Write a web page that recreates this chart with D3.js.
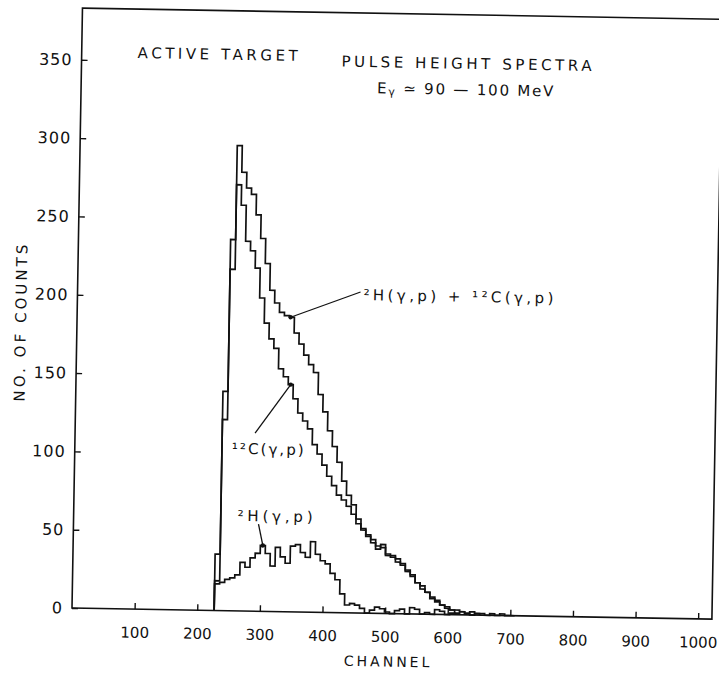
<!DOCTYPE html>
<html lang="en">
<head>
<meta charset="UTF-8">
<title>Active target pulse height spectra</title>
<script src="https://cdnjs.cloudflare.com/ajax/libs/d3/7.8.5/d3.min.js"></script>
<style>
  body { margin: 0; background: #fff; }
  text { font-family: "DejaVu Sans", sans-serif; fill: #111; }
</style>
</head>
<body>
<div id="graph"></div>
<script>
// histogram bins: first bin starts at channel 227, every bin is 8 channels wide
let firstChannel = 227;
let binWidth = 8;

// counts per bin
let totalCounts = [36, 140, 237, 297, 280, 270, 266, 253, 238, 222, 205, 197, 191, 189, 188, 178, 171, 164, 158, 153,
  139, 128, 116, 106, 96, 84, 75, 69, 60, 54, 49, 45, 43, 42, 38, 36, 35, 31, 28, 25,
  20, 18, 14, 11, 9, 6, 5, 3, 3, 2, 1, 2, 1, 1, 0, 1, 0, 1, 0, 0];
let carbonCounts = [19, 122, 218, 272, 259, 236, 230, 219, 200, 184, 174, 168, 155, 150, 145, 136, 127, 122, 117, 107,
  101, 94, 87, 81, 75, 72, 68, 63, 57, 53, 50, 47, 41, 44, 37, 37, 33, 32, 27, 24,
  20, 16, 14, 10, 8, 6, 4, 3, 1, 2, 1, 0, 1];
let deuteronCounts = [17, 18, 20, 21, 23, 31, 28, 34, 37, 42, 37, 29, 41, 35, 31, 42, 43, 38, 35, 45,
  37, 33, 31, 25, 21, 12, 5, 6, 5, 3, 0, 2, 4, 3, 1, 0, 2, 3, 0, 4,
  3, 0, 1, 0, 3, 2, 0, 1];

let xTicks = [100, 200, 300, 400, 500, 600, 700, 800, 900, 1000];
let yTicks = [0, 50, 100, 150, 200, 250, 300, 350];

// page and frame
let width = 719, height = 677;
let frameLeft = 72, frameRight = 712, frameTop = 8, frameBottom = 608;

let svg = d3.select('#graph').append('svg')
  .attr('width', width)
  .attr('height', height);

// the scanned figure sits tilted by about one degree
let g = svg.append('g').attr('transform', `rotate(1, ${frameLeft}, ${frameBottom})`);

let x = d3.scaleLinear().domain([0, 1022]).range([frameLeft, frameRight]);
let y = d3.scaleLinear().domain([0, 383]).range([frameBottom, frameTop]);

// frame
g.append('rect')
  .attr('x', frameLeft).attr('y', frameTop)
  .attr('width', frameRight - frameLeft).attr('height', frameBottom - frameTop)
  .attr('fill', 'none').attr('stroke', '#111').attr('stroke-width', 1.6);

// axes with inward ticks
let xAxis = g.append('g')
  .attr('transform', `translate(0, ${frameBottom})`)
  .call(d3.axisBottom(x).tickValues(xTicks).tickFormat(d3.format('d')).tickSize(-6).tickPadding(18));
let yAxis = g.append('g')
  .attr('transform', `translate(${frameLeft}, 0)`)
  .call(d3.axisLeft(y).tickValues(yTicks).tickFormat(d3.format('d')).tickSize(-6).tickPadding(9));

[xAxis, yAxis].forEach(a => {
  a.select('.domain').remove();
  a.selectAll('line').attr('stroke', '#111').attr('stroke-width', 1.4);
  a.selectAll('text')
    .attr('fill', '#111')
    .style('font-family', '"DejaVu Sans", sans-serif');
});
xAxis.selectAll('text').style('font-size', '15px');
yAxis.selectAll('text').style('font-size', '16px').style('letter-spacing', '1px');

// histograms as step lines
function steps(counts) {
  let pts = [{ c: firstChannel, v: 0 }];
  counts.forEach((v, i) => pts.push({ c: firstChannel + i * binWidth, v: v }));
  pts.push({ c: firstChannel + counts.length * binWidth, v: 0 });
  return pts;
}
let line = d3.line()
  .x(d => x(d.c))
  .y(d => y(d.v))
  .curve(d3.curveStepAfter);

[totalCounts, carbonCounts, deuteronCounts].forEach(counts => {
  g.append('path')
    .datum(steps(counts))
    .attr('d', line)
    .attr('fill', 'none')
    .attr('stroke', '#111')
    .attr('stroke-width', 1.7)
    .attr('stroke-linejoin', 'miter');
});

// titles
function label(txt, lx, ly, len, size) {
  return g.append('text')
    .attr('x', lx).attr('y', ly)
    .attr('textLength', len).attr('lengthAdjust', 'spacing')
    .style('font-size', size + 'px')
    .text(txt);
}
label('ACTIVE TARGET', 128, 57, 160, 15);
label('PULSE HEIGHT SPECTRA', 332, 62, 250, 15);
g.append('text')
  .attr('x', 368).attr('y', 88)
  .style('font-size', '15px')
  .style('letter-spacing', '1.8px')
  .html('E<tspan font-size="11" dy="2">γ</tspan><tspan dy="-2"> ≃ 90 — 100 MeV</tspan>');

// reaction labels with pointer lines
label('²H(γ,p) + ¹²C(γ,p)', 358, 295, 190, 15);
label('¹²C(γ,p)', 229, 451, 72, 15);
label('²H(γ,p)', 236, 518, 75, 15);

let pointers = [
  { from: [355, 287], c: 341, v: totalCounts[14] },
  { from: [252, 430], c: 343, v: carbonCounts[14] },
  { from: [257, 521], c: 303, v: deuteronCounts[9] }
];
pointers.forEach(p => {
  g.append('line')
    .attr('x1', p.from[0]).attr('y1', p.from[1])
    .attr('x2', x(p.c)).attr('y2', y(p.v))
    .attr('stroke', '#111').attr('stroke-width', 1.3);
  g.append('circle')
    .attr('cx', x(p.c)).attr('cy', y(p.v)).attr('r', 2.2)
    .attr('fill', '#111');
});

// axis titles
g.append('text')
  .attr('x', 389).attr('y', 661)
  .attr('text-anchor', 'middle')
  .style('font-size', '14px')
  .style('letter-spacing', '3px')
  .text('CHANNEL');
g.append('text')
  .attr('transform', 'translate(21, 324) rotate(-90)')
  .attr('text-anchor', 'middle')
  .attr('textLength', 157).attr('lengthAdjust', 'spacing')
  .style('font-size', '15px')
  .text('NO. OF COUNTS');
</script>
</body>
</html>
